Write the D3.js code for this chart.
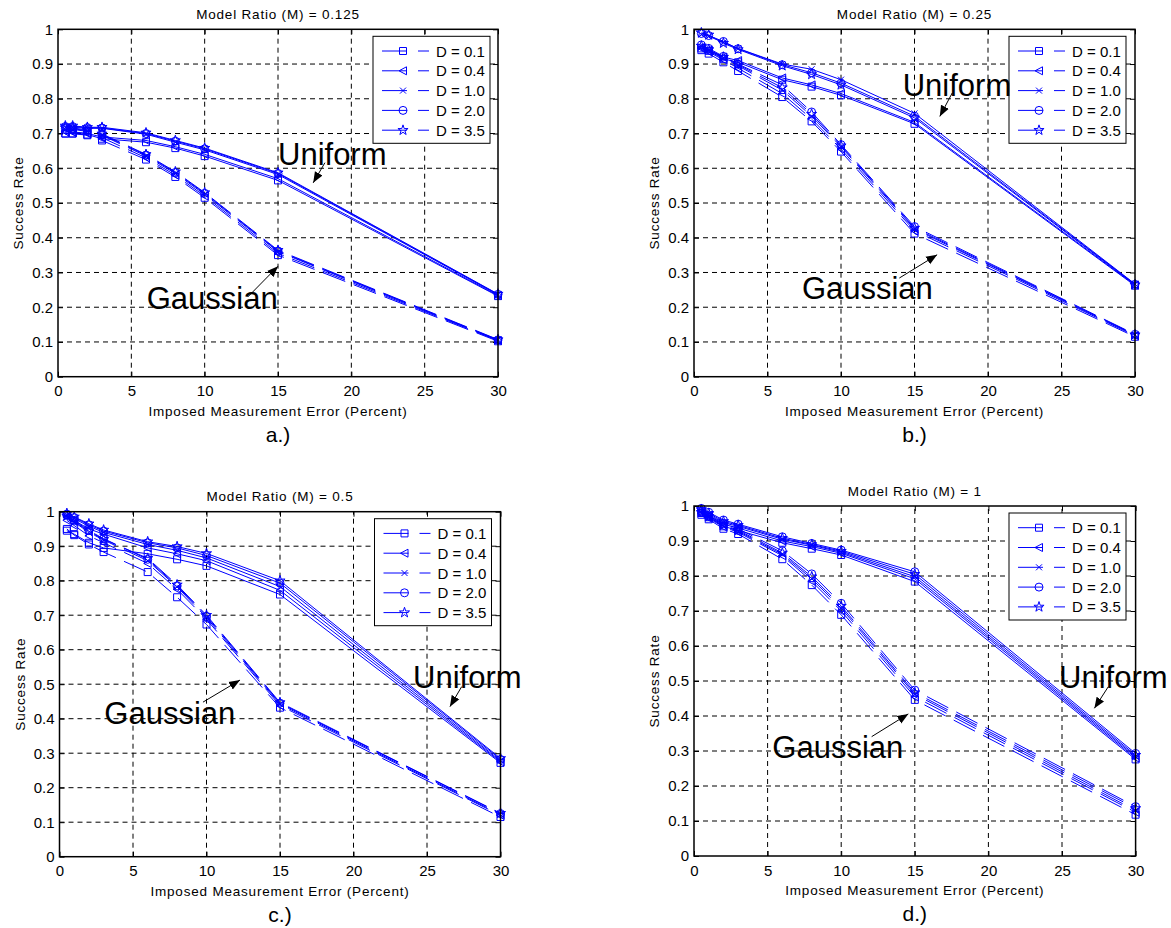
<!DOCTYPE html>
<html>
<head>
<meta charset="utf-8">
<script src="https://cdn.jsdelivr.net/npm/d3@7"></script>
<style>
  body { margin: 0; background: #fff; }
</style>
</head>
<body>
<div id="chart"></div>
<script>
// imposed measurement error (percent) - same x for every series
const errPct = [0.5, 1, 2, 3, 6, 8, 10, 15, 30];
const dLabels = ["D = 0.1", "D = 0.4", "D = 1.0", "D = 2.0", "D = 3.5"];
const titles = ["Model Ratio (M) = 0.125", "Model Ratio (M) = 0.25", "Model Ratio (M) = 0.5", "Model Ratio (M) = 1"];
const captions = ["a.)", "b.)", "c.)", "d.)"];
const xTicks = [0, 5, 10, 15, 20, 25, 30];
const yTicks = [0, 0.1, 0.2, 0.3, 0.4, 0.5, 0.6, 0.7, 0.8, 0.9, 1];

// success rate, one row per D (0.1, 0.4, 1.0, 2.0, 3.5)
const uniformA = [
  [0.700, 0.700, 0.697, 0.685, 0.675, 0.658, 0.635, 0.565, 0.232],
  [0.705, 0.703, 0.700, 0.690, 0.680, 0.662, 0.640, 0.570, 0.234],
  [0.718, 0.718, 0.715, 0.715, 0.698, 0.675, 0.653, 0.582, 0.236],
  [0.720, 0.720, 0.717, 0.716, 0.700, 0.678, 0.656, 0.585, 0.237],
  [0.722, 0.722, 0.718, 0.718, 0.702, 0.680, 0.658, 0.587, 0.238]
];
const gaussA = [
  [0.700, 0.700, 0.695, 0.680, 0.625, 0.575, 0.515, 0.350, 0.102],
  [0.705, 0.705, 0.700, 0.688, 0.630, 0.580, 0.520, 0.355, 0.104],
  [0.712, 0.712, 0.706, 0.695, 0.635, 0.585, 0.525, 0.360, 0.105],
  [0.715, 0.714, 0.708, 0.697, 0.638, 0.588, 0.528, 0.362, 0.106],
  [0.717, 0.716, 0.710, 0.699, 0.640, 0.590, 0.530, 0.364, 0.107]
];
const uniformB = [
  [0.945, 0.938, 0.915, 0.905, 0.855, 0.835, 0.810, 0.728, 0.262],
  [0.948, 0.940, 0.920, 0.910, 0.860, 0.840, 0.815, 0.732, 0.264],
  [0.985, 0.980, 0.962, 0.945, 0.900, 0.885, 0.855, 0.758, 0.267],
  [0.988, 0.982, 0.965, 0.944, 0.898, 0.875, 0.845, 0.750, 0.266],
  [0.990, 0.984, 0.960, 0.942, 0.895, 0.870, 0.840, 0.745, 0.265]
];
const gaussB = [
  [0.940, 0.930, 0.905, 0.880, 0.805, 0.735, 0.648, 0.412, 0.115],
  [0.945, 0.935, 0.912, 0.888, 0.815, 0.742, 0.655, 0.420, 0.118],
  [0.950, 0.940, 0.918, 0.895, 0.825, 0.750, 0.662, 0.425, 0.120],
  [0.955, 0.945, 0.922, 0.900, 0.840, 0.762, 0.668, 0.432, 0.122],
  [0.952, 0.942, 0.920, 0.898, 0.832, 0.756, 0.665, 0.428, 0.121]
];
const uniformC = [
  [0.945, 0.935, 0.910, 0.895, 0.878, 0.862, 0.843, 0.760, 0.272],
  [0.985, 0.975, 0.950, 0.935, 0.895, 0.878, 0.858, 0.772, 0.275],
  [0.990, 0.980, 0.958, 0.940, 0.905, 0.888, 0.866, 0.783, 0.278],
  [0.993, 0.983, 0.962, 0.944, 0.910, 0.895, 0.873, 0.793, 0.282],
  [0.995, 0.985, 0.965, 0.947, 0.913, 0.899, 0.879, 0.800, 0.285]
];
const gaussC = [
  [0.950, 0.932, 0.905, 0.883, 0.825, 0.752, 0.673, 0.432, 0.115],
  [0.975, 0.960, 0.930, 0.910, 0.850, 0.775, 0.688, 0.438, 0.120],
  [0.985, 0.970, 0.940, 0.918, 0.858, 0.782, 0.693, 0.442, 0.122],
  [0.990, 0.975, 0.945, 0.922, 0.862, 0.785, 0.697, 0.445, 0.125],
  [0.988, 0.972, 0.943, 0.920, 0.865, 0.788, 0.700, 0.447, 0.126]
];
const uniformD = [
  [0.980, 0.968, 0.942, 0.930, 0.895, 0.878, 0.860, 0.784, 0.276],
  [0.985, 0.972, 0.948, 0.937, 0.900, 0.884, 0.865, 0.792, 0.280],
  [0.988, 0.976, 0.952, 0.942, 0.905, 0.888, 0.868, 0.798, 0.284],
  [0.993, 0.982, 0.960, 0.948, 0.912, 0.893, 0.874, 0.812, 0.293],
  [0.990, 0.979, 0.956, 0.945, 0.908, 0.890, 0.871, 0.805, 0.288]
];
const gaussD = [
  [0.975, 0.962, 0.935, 0.920, 0.848, 0.774, 0.689, 0.446, 0.118],
  [0.978, 0.965, 0.940, 0.925, 0.858, 0.785, 0.700, 0.455, 0.125],
  [0.980, 0.968, 0.943, 0.928, 0.862, 0.792, 0.708, 0.462, 0.130],
  [0.985, 0.972, 0.950, 0.935, 0.872, 0.806, 0.722, 0.474, 0.141],
  [0.982, 0.970, 0.946, 0.931, 0.866, 0.798, 0.714, 0.467, 0.136]
];

// where each panel sits and where its notes go (notes in data units)
const layout = [
  { left: 58, top: 29.3, w: 440, h: 347.4, uni: uniformA, gau: gaussA,
    uText: [15.0, 0.61], uArrow: [[18.2, 0.616], [17.4, 0.558]],
    gText: [6.05, 0.195], gArrow: [[12.95, 0.23], [15.0, 0.318]] },
  { left: 694, top: 29.3, w: 441, h: 347.4, uni: uniformB, gau: gaussB,
    uText: [14.2, 0.809], uArrow: [[17.57, 0.817], [16.72, 0.749]],
    gText: [7.34, 0.223], gArrow: [[13.97, 0.284], [16.54, 0.351]] },
  { left: 59.5, top: 511.7, w: 441, h: 345, uni: uniformC, gau: gaussC,
    uText: [24.05, 0.489], uArrow: [[27.36, 0.493], [26.56, 0.435]],
    gText: [3.05, 0.384], gArrow: [[9.76, 0.448], [12.28, 0.512]] },
  { left: 694, top: 506, w: 441.6, h: 350, uni: uniformD, gau: gaussD,
    uText: [24.8, 0.479], uArrow: [[28.15, 0.484], [27.2, 0.422]],
    gText: [5.32, 0.279], gArrow: [[12.07, 0.341], [14.56, 0.406]] }
];

const FONT = '"Liberation Sans", Arial, Helvetica, sans-serif';
const BLUE = "#0000ff";

// matlab-ish marker shapes: square, left triangle, x, circle, pentagram
const markerPaths = [
  "M-3.5,-3.5h7v7h-7Z",
  "M-4,0L3.5,-4L3.5,4Z",
  "M-3,-3L3,3M-3,3L3,-3",
  "M-4,0a4,4 0 1,0 8,0a4,4 0 1,0 -8,0",
  d3.symbol(d3.symbolStar, 32)()
];

const svg = d3.select("#chart").append("svg")
  .attr("width", 1171)
  .attr("height", 928)
  .style("background", "#fff");

svg.append("defs").append("marker")
  .attr("id", "head")
  .attr("viewBox", "0 0 10 10")
  .attr("refX", 10).attr("refY", 5)
  .attr("markerWidth", 11).attr("markerHeight", 11)
  .attr("markerUnits", "userSpaceOnUse")
  .attr("orient", "auto")
  .append("path")
  .attr("d", "M0,1L10,5L0,9Z")
  .attr("fill", "#000");

layout.forEach((p, i) => {
  var x = d3.scaleLinear().domain([0, 30]).range([p.left, p.left + p.w]);
  var y = d3.scaleLinear().domain([0, 1]).range([p.top + p.h, p.top]);
  var g = svg.append("g");

  // grid
  g.append("g").selectAll("line")
    .data(xTicks.slice(1, -1))
    .join("line")
    .attr("x1", d => x(d)).attr("x2", d => x(d))
    .attr("y1", y(0)).attr("y2", y(1))
    .attr("stroke", "#000").attr("stroke-dasharray", "5,4");
  g.append("g").selectAll("line")
    .data(yTicks.slice(1, -1))
    .join("line")
    .attr("y1", d => y(d)).attr("y2", d => y(d))
    .attr("x1", x(0)).attr("x2", x(30))
    .attr("stroke", "#000").attr("stroke-dasharray", "5,4");

  // axes, ticks pointing inwards like matlab
  var styleAxis = a => {
    a.select(".domain").remove();
    a.attr("font-family", FONT).attr("font-size", 15);
    a.selectAll(".tick line").attr("stroke", "#000");
    a.selectAll(".tick text").attr("fill", "#000");
  };
  g.append("g").attr("transform", "translate(0," + y(0) + ")")
    .call(d3.axisBottom(x).tickValues(xTicks).tickSize(-5).tickPadding(9).tickFormat(d => String(d)))
    .call(styleAxis);
  g.append("g").attr("transform", "translate(" + x(0) + ",0)")
    .call(d3.axisLeft(y).tickValues(yTicks).tickSize(-5).tickPadding(5).tickFormat(d => String(d)))
    .call(styleAxis);
  g.append("g").attr("transform", "translate(0," + y(1) + ")")
    .call(d3.axisTop(x).tickValues(xTicks).tickSize(-5).tickFormat(""))
    .call(styleAxis);
  g.append("g").attr("transform", "translate(" + x(30) + ",0)")
    .call(d3.axisRight(y).tickValues(yTicks).tickSize(-5).tickFormat(""))
    .call(styleAxis);

  // data lines
  var line = d3.line().x((d, j) => x(errPct[j])).y(d => y(d));
  p.uni.forEach(row => {
    g.append("path").attr("d", line(row))
      .attr("fill", "none").attr("stroke", BLUE).attr("stroke-width", 1);
  });
  p.gau.forEach(row => {
    g.append("path").attr("d", line(row))
      .attr("fill", "none").attr("stroke", BLUE).attr("stroke-width", 1)
      .attr("stroke-dasharray", "24,9");
  });
  // markers
  [p.uni, p.gau].forEach(set => {
    set.forEach((row, k) => {
      g.append("g").selectAll("path")
        .data(row)
        .join("path")
        .attr("d", markerPaths[k])
        .attr("transform", (d, j) => "translate(" + x(errPct[j]) + "," + y(d) + ")")
        .attr("fill", "none").attr("stroke", BLUE).attr("stroke-width", 1);
    });
  });

  // box
  g.append("rect")
    .attr("x", x(0)).attr("y", y(1))
    .attr("width", x(30) - x(0)).attr("height", y(0) - y(1))
    .attr("fill", "none").attr("stroke", "#000").attr("stroke-width", 1.5);

  // legend
  var lx = p.left + 315, ly = p.top + 7;
  var lg = g.append("g");
  lg.append("rect").attr("x", lx).attr("y", ly).attr("width", 117).attr("height", 107)
    .attr("fill", "#fff").attr("stroke", "#000").attr("stroke-width", 1);
  dLabels.forEach((lab, k) => {
    var cy = ly + 14.7 + k * 19.8;
    lg.append("path").attr("d", "M" + (lx + 9) + "," + cy + "H" + (lx + 56))
      .attr("stroke", BLUE).attr("stroke-dasharray", "25,11").attr("fill", "none");
    lg.append("path").attr("d", markerPaths[k])
      .attr("transform", "translate(" + (lx + 30) + "," + cy + ")")
      .attr("fill", "none").attr("stroke", BLUE);
    lg.append("text").attr("x", lx + 63).attr("y", cy + 5.5)
      .attr("font-family", FONT).attr("font-size", 15).text(lab);
  });

  // titles and labels
  var cx = (x(0) + x(30)) / 2;
  g.append("text").attr("x", cx).attr("y", p.top - 10.3)
    .attr("text-anchor", "middle").attr("font-family", FONT).attr("font-size", 13.5)
    .attr("letter-spacing", 0.8).text(titles[i]);
  g.append("text").attr("x", cx).attr("y", y(0) + 39)
    .attr("text-anchor", "middle").attr("font-family", FONT).attr("font-size", 13.5)
    .attr("letter-spacing", 0.8).text("Imposed Measurement Error (Percent)");
  g.append("text")
    .attr("transform", "translate(" + (x(0) - 35) + "," + (y(0) + y(1)) / 2 + ") rotate(-90)")
    .attr("text-anchor", "middle").attr("font-family", FONT).attr("font-size", 13.5)
    .attr("letter-spacing", 0.8).text("Success Rate");
  g.append("text").attr("x", cx).attr("y", y(0) + 65)
    .attr("text-anchor", "middle").attr("font-family", FONT).attr("font-size", 21)
    .text(captions[i]);

  // Uniform / Gaussian notes with arrows
  g.append("text").attr("x", x(p.uText[0])).attr("y", y(p.uText[1]))
    .attr("font-family", FONT).attr("font-size", 31).text("Uniform");
  g.append("text").attr("x", x(p.gText[0])).attr("y", y(p.gText[1]))
    .attr("font-family", FONT).attr("font-size", 31).text("Gaussian");
  [p.uArrow, p.gArrow].forEach(a => {
    g.append("line")
      .attr("x1", x(a[0][0])).attr("y1", y(a[0][1]))
      .attr("x2", x(a[1][0])).attr("y2", y(a[1][1]))
      .attr("stroke", "#000").attr("stroke-width", 1)
      .attr("marker-end", "url(#head)");
  });
});
</script>
</body>
</html>
